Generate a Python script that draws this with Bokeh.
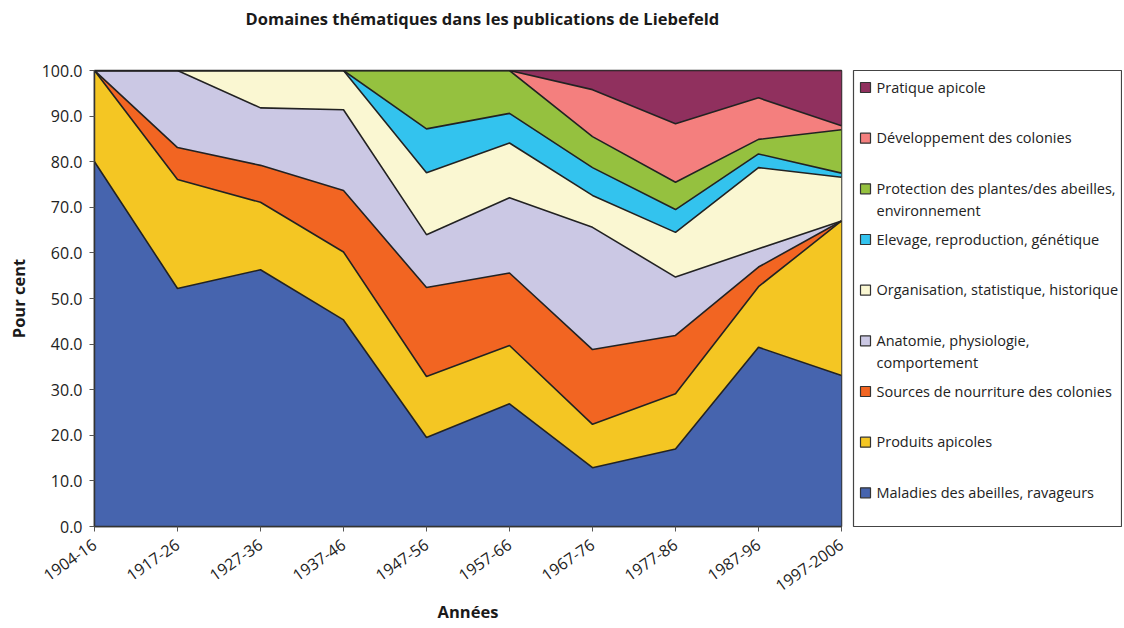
import math
from bokeh.plotting import figure
from bokeh.models import ColumnDataSource, Range1d, FixedTicker, NumeralTickFormatter, Title
from bokeh.layouts import row
from bokeh.embed import file_html
from bokeh.resources import INLINE
from bokeh.core.properties import value

periods = ["1904-16", "1917-26", "1927-36", "1937-46", "1947-56", "1957-66",
           "1967-76", "1977-86", "1987-96", "1997-2006"]

maladies = [80.0, 52.2, 56.3, 45.3, 19.5, 26.9, 12.9, 17.0, 39.3, 33.1]
produits = [20.0, 23.9, 14.8, 14.9, 13.4, 12.8, 9.5, 12.1, 13.3, 33.9]
sources = [0.0, 7.0, 8.1, 13.5, 19.5, 15.9, 16.4, 12.8, 4.3, 0.0]
anatomie = [0.0, 16.9, 12.6, 17.7, 11.6, 16.5, 26.8, 12.8, 4.0, 0.0]
organisation = [0.0, 0.0, 8.2, 8.6, 13.6, 12.0, 7.0, 9.8, 17.8, 9.6]
elevage = [0.0, 0.0, 0.0, 0.0, 9.6, 6.5, 6.1, 5.0, 3.0, 0.9]
protection = [0.0, 0.0, 0.0, 0.0, 12.8, 9.4, 6.8, 6.0, 3.2, 9.5]
developpement = [0.0, 0.0, 0.0, 0.0, 0.0, 0.0, 10.3, 12.8, 9.1, 0.9]
pratique = [0.0, 0.0, 0.0, 0.0, 0.0, 0.0, 4.2, 11.7, 6.0, 12.1]

series_keys = ["maladies", "produits", "sources", "anatomie", "organisation",
               "elevage", "protection", "developpement", "pratique"]
series_labels = ["Maladies des abeilles, ravageurs",
                 "Produits apicoles",
                 "Sources de nourriture des colonies",
                 "Anatomie, physiologie,\ncomportement",
                 "Organisation, statistique, historique",
                 "Elevage, reproduction, génétique",
                 "Protection des plantes/des abeilles,\nenvironnement",
                 "Développement des colonies",
                 "Pratique apicole"]
series_colors = ["#4664AE", "#F4C623", "#F26522", "#CBC8E4", "#FAF7D2",
                 "#33C3EE", "#95C13F", "#F47F7E", "#90305E"]

y_ticks = [0, 10, 20, 30, 40, 50, 60, 70, 80, 90, 100]

TITLE = "Domaines thématiques dans les publications de Liebefeld"
FONT = "Open Sans"

data = dict(x=list(range(len(periods))),
            maladies=maladies, produits=produits, sources=sources,
            anatomie=anatomie, organisation=organisation, elevage=elevage,
            protection=protection, developpement=developpement, pratique=pratique)
src = ColumnDataSource(data)

p = figure(width=850, height=628, output_backend="svg", toolbar_location=None,
           title=None,
           x_range=Range1d(0, len(periods) - 1), y_range=Range1d(0, 100),
           min_border_left=94, min_border_right=9, min_border_top=70,
           min_border_bottom=102)

# spacer panel (closest to the frame) then the real title above it
spacer = Title(text=" ", text_font=FONT, text_font_size="16.5px", standoff=16)
p.add_layout(spacer, "above")
title = Title(text=TITLE, align="left", offset=151, standoff=0,
              text_font=FONT, text_font_size="16.5px", text_font_style="bold",
              text_color="#1a1a1a")
p.add_layout(title, "above")

p.varea_stack(stackers=series_keys, x="x", color=series_colors, source=src)
p.vline_stack(stackers=series_keys, x="x", color="#222222", line_width=1.6, source=src)

p.xgrid.visible = False
p.ygrid.visible = False
p.outline_line_color = "#333333"
p.outline_line_width = 1.5

p.xaxis.ticker = FixedTicker(ticks=list(range(len(periods))))
p.xaxis.major_label_overrides = {i: lab for i, lab in enumerate(periods)}
p.xaxis.major_label_orientation = 0.61
p.yaxis.ticker = FixedTicker(ticks=y_ticks)
p.yaxis.formatter = NumeralTickFormatter(format="0.0")
for ax in (p.xaxis[0], p.yaxis[0]):
    ax.minor_tick_line_color = None
    ax.major_tick_in = 0
    ax.major_tick_out = 5
    ax.axis_line_color = "#333333"
    ax.axis_line_width = 1.5
    ax.major_tick_line_color = "#555555"
    ax.major_label_text_font = FONT
    ax.major_label_text_color = "#222222"
    ax.major_label_text_font_size = "16px"
    ax.axis_label_text_font = FONT
    ax.axis_label_text_font_size = "16.5px"
    ax.axis_label_text_font_style = "bold"
    ax.axis_label_text_color = "#1a1a1a"
p.xaxis.axis_label = "Années"
p.yaxis.axis_label = "Pour cent"
p.yaxis.axis_label_standoff = 9
p.xaxis.axis_label_standoff = 0
p.xaxis.major_label_standoff = 11
p.yaxis.major_label_standoff = 7
p.background_fill_color = "white"
p.border_fill_color = "white"

# legend panel
n = len(series_keys)
lg_h = 456
lg_w = 268
lg = figure(width=272, height=628, output_backend="svg", toolbar_location=None,
            x_range=Range1d(0, lg_w), y_range=Range1d(lg_h, 0),
            min_border_left=3, min_border_right=1, min_border_top=70,
            min_border_bottom=102)
lg.axis.visible = False
lg.grid.visible = False
lg.outline_line_color = "#444444"
lg.outline_line_width = 1.2
lg.border_fill_color = "white"

slot = lg_h / n
order = list(range(n))[::-1]
ys = [17 + slot * i for i in range(n)]
lsrc = ColumnDataSource(dict(
    x=[12] * n, tx=[23] * n, y=ys, ty=[yy - 10 for yy in ys],
    color=[series_colors[k] for k in order],
    label=[series_labels[k] for k in order]))
lg.scatter(x="x", y="y", marker="square", size=10, fill_color="color",
           line_color="#333333", line_width=1.2, source=lsrc)
lg.text(x="tx", y="ty", text="label", text_baseline="top", text_align="left",
        text_font=value(FONT), text_font_size="14.5px", text_color="#222222",
        text_line_height=1.15, source=lsrc)

layout = row(p, lg)
open("out.html", "w").write(file_html(layout, INLINE))
